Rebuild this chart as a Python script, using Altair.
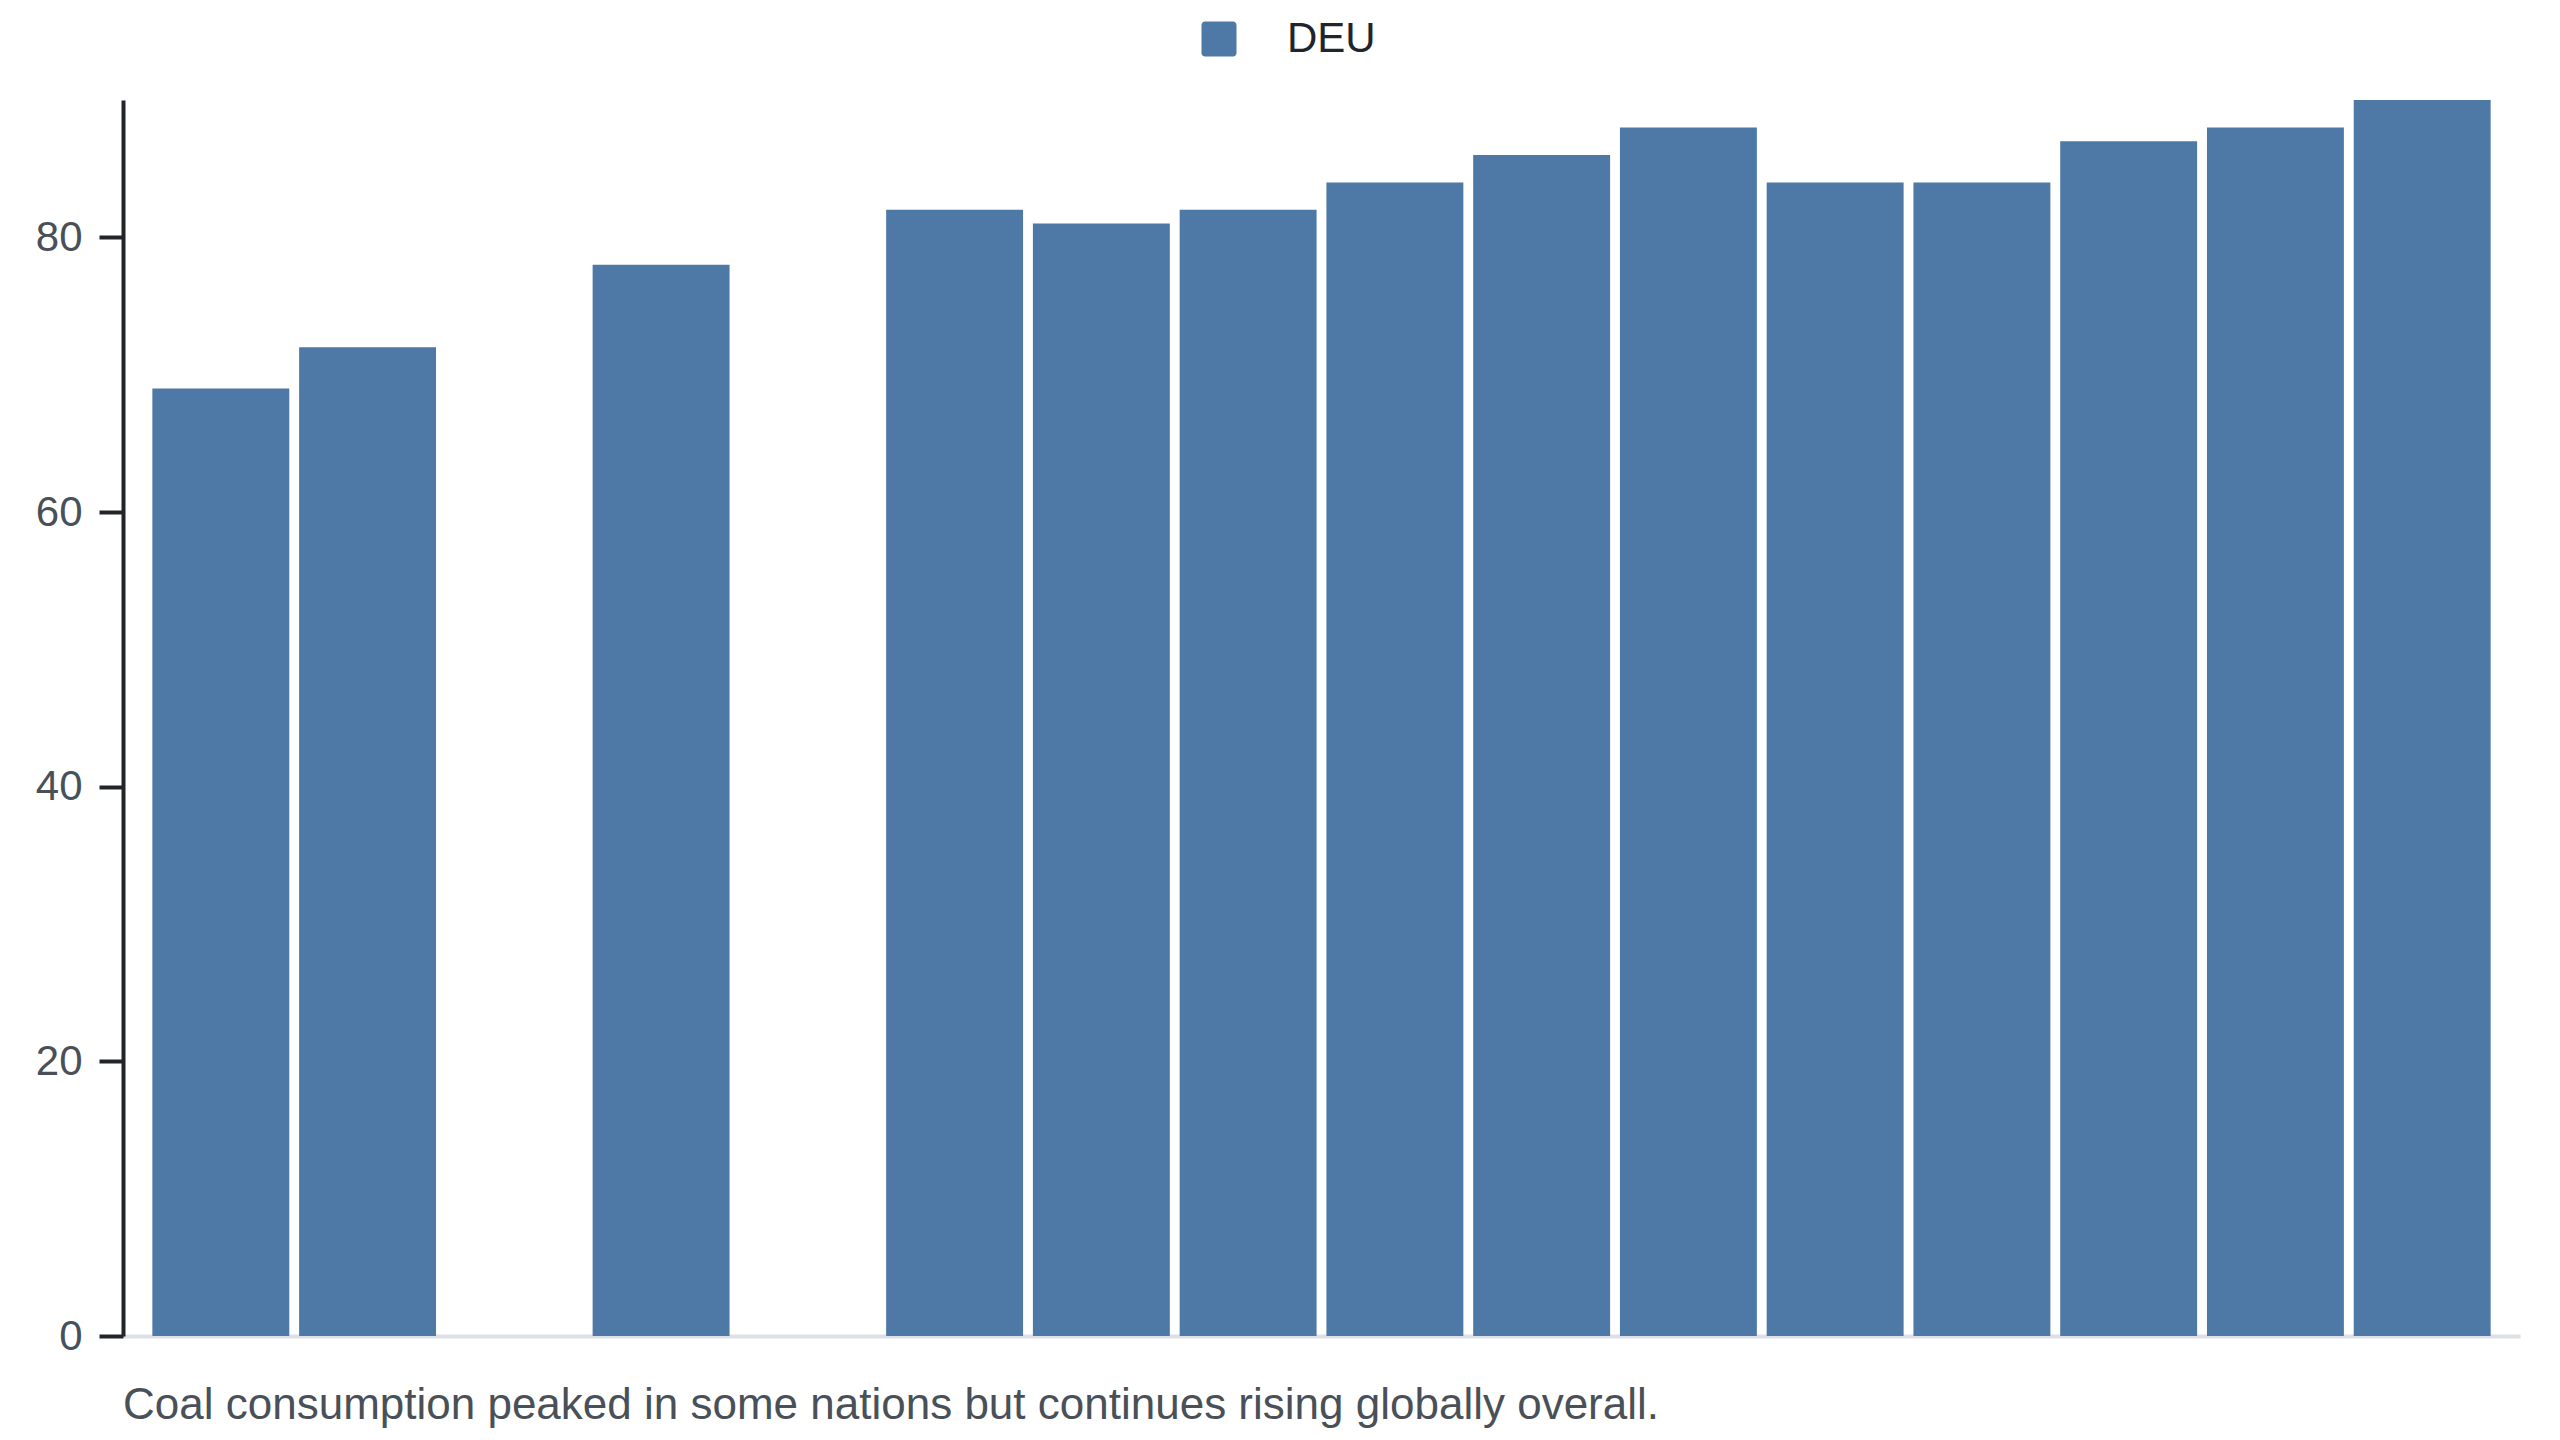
import altair as alt
import pandas as pd

years = [2008, 2009, 2010, 2011, 2012, 2013, 2014, 2015,
         2016, 2017, 2018, 2019, 2020, 2021, 2022, 2023]
values = [69, 72, None, 78, None, 82, 81, 82,
          84, 86, 88, 84, 84, 87, 88, 90]
country = "DEU"
caption = "Coal consumption peaked in some nations but continues rising globally overall."
bar_color = "#4e79a7"

df = pd.DataFrame({"year": [str(y) for y in years], "value": values, "country": country})

FONT = "Liberation Sans, Arial, sans-serif"
rounded_square = ("M-0.8,-1H0.8A0.2,0.2,0,0,1,1,-0.8V0.8A0.2,0.2,0,0,1,0.8,1"
                  "H-0.8A0.2,0.2,0,0,1,-1,0.8V-0.8A0.2,0.2,0,0,1,-0.8,-1Z")

chart = alt.Chart(df).mark_bar().encode(
    x=alt.X("year:O",
            scale=alt.Scale(domain=[str(y) for y in years], paddingInner=0.067, paddingOuter=0.2),
            axis=alt.Axis(title=None, labels=False, ticks=False, domainColor="#dde0e5",
                          domainWidth=4)),
    y=alt.Y("value:Q",
            scale=alt.Scale(domain=[0, 90], nice=False),
            axis=alt.Axis(title=None, values=[0, 20, 40, 60, 80], grid=False,
                          domainColor="#212529", domainWidth=4, tickColor="#212529",
                          tickWidth=4, tickSize=24, labelPadding=17, labelFontSize=42,
                          labelColor="#495057", labelFont=FONT)),
    color=alt.Color("country:N", scale=alt.Scale(range=[bar_color]),
                    legend=alt.Legend(title=None, orient="none", legendX=1075, legendY=-82,
                                      symbolType=rounded_square, symbolSize=1225,
                                      symbolStrokeWidth=0, labelFontSize=42, labelFont=FONT,
                                      labelColor="#212529", labelOffset=47, padding=0)),
).properties(
    width=2397,
    height=1236,
    padding={"left": 115, "top": 92, "right": 32, "bottom": 94},
    autosize=alt.AutoSizeParams(type="none"),
    title=alt.TitleParams(caption, orient="bottom", anchor="start", frame="group",
                          fontSize=44, font=FONT, fontWeight="normal", color="#495057",
                          baseline="alphabetic", offset=62),
).configure_view(stroke=None)

chart.save("out.html", embed_options={"renderer": "svg", "actions": False})
